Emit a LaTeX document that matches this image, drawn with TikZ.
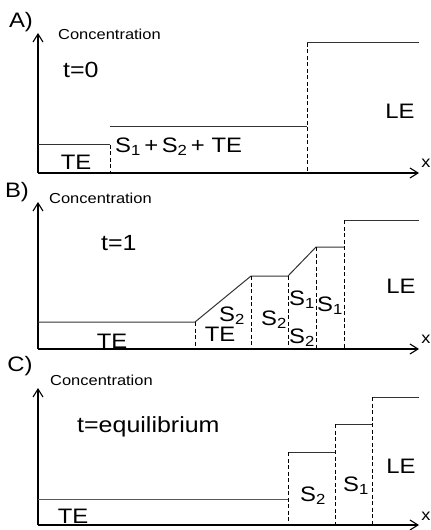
\documentclass[tikz,border=0pt]{standalone}
\usepackage{fontspec}
\setmainfont{Liberation Sans}[FakeStretch=1.14]
\usetikzlibrary{arrows.meta, positioning}

\begin{document}
\begin{tikzpicture}[
  x=1bp, y=-1bp,
  axis/.style={line width=1.1bp, -{Straight Barb[length=8bp, width=10bp]}},
  level/.style={line width=1bp, black!80},
  bound/.style={line width=0.7bp, dash pattern=on 4bp off 2.5bp},
  panel/.style={font=\fontsize{21}{23}\selectfont, inner sep=0pt},
  ylabel/.style={font=\fontsize{14.5}{16}\selectfont, anchor=base west, inner sep=0pt},
  xlabel/.style={font=\fontsize{16}{17}\selectfont, inner sep=0pt},
  tlabel/.style={font=\fontsize{22}{24}\selectfont, anchor=base west, inner sep=0pt},
  zone/.style={font=\fontsize{21}{23}\selectfont, inner sep=0pt}
]
  \useasboundingbox (0,0) rectangle (430,530);

  % Panel A
  \coordinate (oA) at (38,173);
  \coordinate (yA) at (38,33);
  \coordinate (xA) at (419,173);
  \draw[axis] (oA) -- (yA);
  \draw[axis] (oA) -- (xA);
  \node[panel] (pA) at (21,22) {A)};
  \node[ylabel] (cA) at (58,40) {Concentration};
  \node[xlabel] (xlA) at (426,163) {x};
  \node[tlabel] (tA) at (63,78) {t=0};

  \draw[level] (38,145) -- (110,145);
  \draw[bound] (110,145) -- (110,173);
  \draw[level] (110,127) -- (307,127);
  \draw[bound] (307,43) -- (307,173);
  \draw[level] (307,43) -- (419,43);

  \node[zone] (teA) at (76,162) {TE};
  \node[zone, anchor=west] (mixA) at (115,147)
    {S\textsubscript{1}\,+\,S\textsubscript{2}\,+ TE};
  \node[zone] (leA) at (400,111) {LE};

  % Panel B
  \coordinate (oB) at (38,349);
  \coordinate (yB) at (38,202);
  \coordinate (xB) at (419,349);
  \draw[axis] (oB) -- (yB);
  \draw[axis] (oB) -- (xB);
  \node[panel] (pB) at (17,192) {B)};
  \node[ylabel] (cB) at (49,204) {Concentration};
  \node[xlabel] (xlB) at (426,339) {x};
  \node[tlabel] (tB) at (101,250) {t=1};

  \draw[level] (38,322) -- (195,322) -- (251,276) -- (288,276)
    -- (316,247) -- (344,247);
  \draw[level] (344,220) -- (419,220);
  \foreach \xx/\yy in {195/322, 251/276, 288/276, 316/247, 344/220}
    \draw[bound] (\xx,\yy) -- (\xx,349);

  \node[zone] (teB) at (112,341) {TE};
  \node[zone] (teB2) at (220,334) {TE};
  \node[zone] (sB1) at (232,316) {S\textsubscript{2}};
  \node[zone] (sB2) at (274,320) {S\textsubscript{2}};
  \node[zone] (sB3) at (302,300) {S\textsubscript{1}};
  \node[zone] (sB4) at (302,338) {S\textsubscript{2}};
  \node[zone] (sB5) at (330,306) {S\textsubscript{1}};
  \node[zone] (leB) at (401,286) {LE};

  % Panel C
  \coordinate (oC) at (38,525);
  \coordinate (yC) at (38,388);
  \coordinate (xC) at (419,525);
  \draw[axis] (oC) -- (yC);
  \draw[axis] (oC) -- (xC);
  \node[panel] (pC) at (20,366) {C)};
  \node[ylabel] (cC) at (50,385) {Concentration};
  \node[xlabel] (xlC) at (426,516) {x};
  \node[tlabel] (tC) at (77,432) {t=equilibrium};

  \draw[level, black!65] (38,499) -- (288,499);
  \draw[level] (288,452) -- (335,452);
  \draw[level] (335,424) -- (372,424);
  \draw[level] (372,397) -- (419,397);
  \foreach \xx/\yy in {288/452, 335/424, 372/397}
    \draw[bound] (\xx,\yy) -- (\xx,525);

  \node[zone] (teC) at (73,516) {TE};
  \node[zone] (sC1) at (313,496) {S\textsubscript{2}};
  \node[zone] (sC2) at (356,486) {S\textsubscript{1}};
  \node[zone] (leC) at (401,466) {LE};
\end{tikzpicture}
\end{document}
